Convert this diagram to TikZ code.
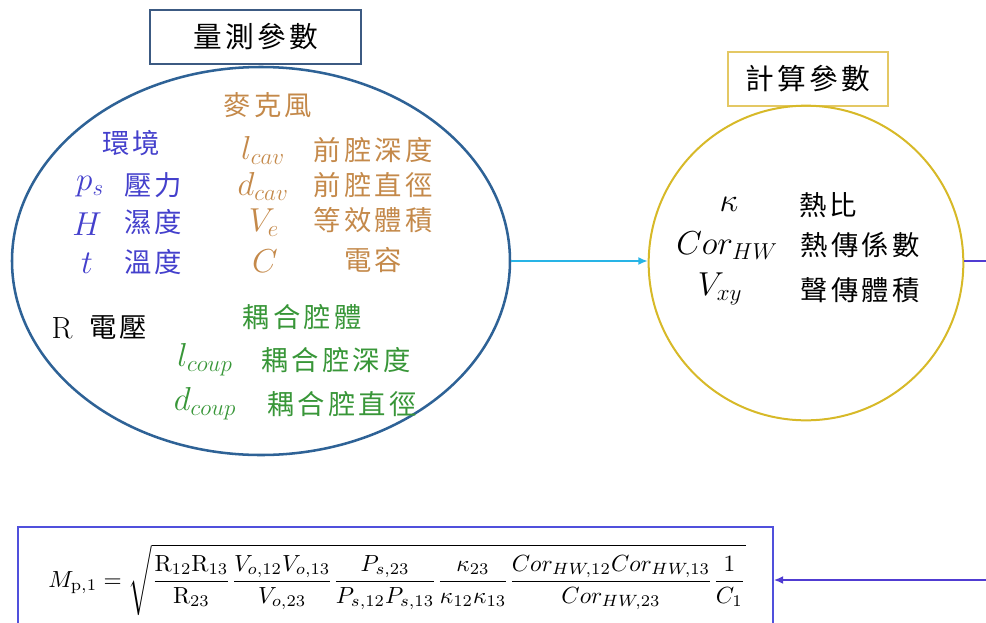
\documentclass[tikz,border=0pt]{standalone}
\usepackage{amsmath}
\usepackage{graphicx}
\usepackage{fontspec}
\newfontfamily\cjk[LetterSpace=12]{Noto Sans CJK TC}
\usetikzlibrary{arrows.meta,shapes.geometric}
\definecolor{envblue}{RGB}{68,64,204}
\definecolor{micorange}{RGB}{196,137,74}
\definecolor{cavgreen}{RGB}{56,150,56}
\definecolor{ellline}{RGB}{46,98,150}
\definecolor{tboxline}{RGB}{60,90,130}
\definecolor{circline}{RGB}{215,185,40}
\definecolor{tbox2line}{RGB}{228,200,100}
\definecolor{cyanline}{RGB}{40,180,230}
\definecolor{purpline}{RGB}{80,60,210}
\definecolor{fboxline}{RGB}{80,80,220}
\tikzset{
  cjktext/.style={font=\cjk\fontsize{20.5}{24}\selectfont, inner sep=0pt},
  mtext/.style={font=\fontsize{23}{26}\selectfont, inner sep=0pt},
  titlebox/.style={draw, line width=1.1pt, inner sep=0pt, font=\cjk\fontsize{21.5}{24}\selectfont},
}
\begin{document}
\begin{tikzpicture}[x=0.75pt,y=-0.75pt]
\useasboundingbox (0,0) rectangle (986,622);
% left: measured parameters
\node[titlebox, draw=tboxline, minimum width=158.25pt, minimum height=40.5pt] (t1) at (255.5,37) {量測參數};
\node[ellipse, draw=ellline, line width=1.9pt, minimum width=373.5pt, minimum height=291pt, inner sep=0pt] (ell) at (261,261) {};
\node[cjktext, text=micorange] (mic) at (268,105) {麥克風};
\node[cjktext, text=envblue] (env) at (131,143) {環境};
\node[mtext, text=envblue] (ps) at (90,187) {$p_s$};
\node[cjktext, text=envblue] (ps2) at (153,185) {壓力};
\node[mtext, text=envblue] (hh) at (87,224) {$H$};
\node[cjktext, text=envblue] (hh2) at (153,222) {濕度};
\node[mtext, text=envblue] (tt) at (87,263) {$t$};
\node[cjktext, text=envblue] (tt2) at (153,262) {溫度};
\node[mtext, text=micorange] (lcav) at (263,150) {$l_{cav}$};
\node[cjktext, text=micorange] (lcav2) at (373,150) {前腔深度};
\node[mtext, text=micorange] (dcav) at (263,186) {$d_{cav}$};
\node[cjktext, text=micorange] (dcav2) at (373,185) {前腔直徑};
\node[mtext, text=micorange] (ve) at (264,223) {$V_e$};
\node[cjktext, text=micorange] (ve2) at (373,220) {等效體積};
\node[mtext, text=micorange] (cc) at (265,261) {$C$};
\node[cjktext, text=micorange] (cc2) at (373,260) {電容};
\node[mtext, text=black] (rr) at (62,328) {$\mathrm{R}$};
\node[cjktext, text=black] (rr2) at (118,327) {電壓};
\node[cjktext, text=cavgreen] (cup) at (302,317) {耦合腔體};
\node[mtext, text=cavgreen] (lcp) at (205,360) {$l_{coup}$};
\node[cjktext, text=cavgreen] (lcp2) at (336,360) {耦合腔深度};
\node[mtext, text=cavgreen] (dcp) at (205,404) {$d_{coup}$};
\node[cjktext, text=cavgreen] (dcp2) at (342,404) {耦合腔直徑};
% right: computed parameters
\node[titlebox, draw=tbox2line, minimum width=120pt, minimum height=40.5pt] (t2) at (808,79) {計算參數};
\node[circle, draw=circline, line width=1.5pt, minimum size=236pt, inner sep=0pt] (circ) at (806,263) {};
\node[mtext, text=black] (ka) at (729,204) {$\kappa$};
\node[cjktext, text=black] (ka2) at (828,205) {熱比};
\node[mtext, text=black] (cor) at (727,246) {$Cor_{HW}$};
\node[cjktext, text=black] (cor2) at (860,245) {熱傳係數};
\node[mtext, text=black] (vxy) at (720,289) {$V_{xy}$};
\node[cjktext, text=black] (vxy2) at (860,290) {聲傳體積};
% formula box
\node[draw=fboxline, line width=1.3pt, minimum width=566.25pt, minimum height=99.75pt, inner sep=0pt] (fbox) at (395.5,593.5) {};
\node[inner sep=0pt] (form) at (397,580) {\resizebox{523pt}{!}{$\displaystyle M_{\mathrm{p},1}=\sqrt{\frac{\mathrm{R}_{12}\mathrm{R}_{13}}{\mathrm{R}_{23}}\frac{V_{o,12}V_{o,13}}{V_{o,23}}\frac{P_{s,23}}{P_{s,12}P_{s,13}}\frac{\kappa_{23}}{\kappa_{12}\kappa_{13}}\frac{Cor_{HW,12}Cor_{HW,13}}{Cor_{HW,23}}\frac{1}{C_1}}$}};
% connectors
\coordinate (r1) at (986,261);
\coordinate (r2) at (986,580);
\draw[cyanline, line width=1.2pt, -{Latex[length=7pt,width=6pt]}] (ell.east) -- (ell.east -| circ.west);
\draw[purpline, line width=1.2pt] (r1 -| circ.east) -- (r1);
\draw[purpline, line width=1.2pt, -{Latex[length=7pt,width=6pt]}] (r2) -- (r2 -| fbox.east);
\end{tikzpicture}
\end{document}
